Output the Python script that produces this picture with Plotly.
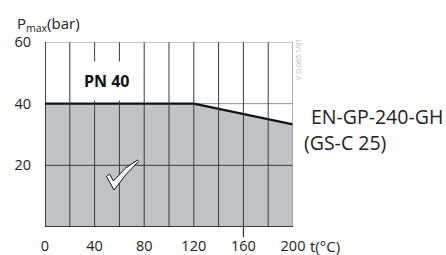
import plotly.graph_objects as go

# data
temps = [0, 120, 200]
pmax = [40, 40, 33.3]
x_ticks = [0, 40, 80, 120, 160, 200]
x_grid = [20, 40, 60, 80, 100, 120, 140, 160, 180]
y_ticks = [20, 40, 60]
y_grid = [20]
pn_label = "PN 40"
material = ["EN-GP-240-GH", "(GS-C 25)"]

W, H = 446, 255
L, R, T, B = 45, 153, 42, 28
FONT = "Open Sans"
TXT = "#222222"
GRID = "#3a3a3a"

fig = go.Figure()
fig.add_trace(go.Scatter(
    x=temps, y=pmax, mode="lines",
    line=dict(color="#111111", width=2.2),
    fill="tozeroy", fillcolor="#c1c2c6",
    hoverinfo="skip", showlegend=False,
))

shapes = []
shapes.append(dict(type="line", xref="x", yref="y", x0=0, x1=200, y0=40, y1=40,
                   line=dict(color="#8c8c8c", width=1), layer="below"))
for xv in x_grid:
    shapes.append(dict(type="line", xref="x", yref="y", x0=xv, x1=xv, y0=0, y1=60,
                       line=dict(color=GRID, width=1), layer="above"))
for yv in y_grid:
    shapes.append(dict(type="line", xref="x", yref="y", x0=0, x1=200, y0=yv, y1=yv,
                       line=dict(color=GRID, width=1), layer="above"))
shapes.append(dict(type="line", xref="x", yref="y", x0=0, x1=200, y0=60, y1=60,
                   line=dict(color="#8a8a8a", width=1), layer="above"))
shapes.append(dict(type="line", xref="x", yref="y", x0=200, x1=200, y0=0, y1=60,
                   line=dict(color="#8a8a8a", width=1.3), layer="above"))
shapes.append(dict(type="line", xref="x", yref="y", x0=0, x1=0, y0=0, y1=60,
                   line=dict(color="#111111", width=1.5), layer="above"))
shapes.append(dict(type="line", xref="x", yref="y", x0=0, x1=200, y0=0, y1=0,
                   line=dict(color="#111111", width=1.5), layer="above"))
shapes.append(dict(type="line", xref="x", yref="paper", x0=160, x1=160, y0=0, y1=-0.055,
                   line=dict(color="#111111", width=1), layer="above"))

def px2d(px, py):
    return (px - L) / (W - L - R) * 200, (H - B - py) / (H - T - B) * 60

pts = [(106.5, 176.5), (109.5, 174.0), (113.5, 181.0), (125, 168.5), (137.5, 160.0),
       (138.5, 161.5), (126.5, 174), (114.0, 190.0)]
d = []
for i, (px, py) in enumerate(pts):
    xd, yd = px2d(px, py)
    d.append(("M" if i == 0 else "L") + f"{xd:.3f},{yd:.3f}")
path = " ".join(d) + " Z"
shapes.append(dict(type="path", xref="x", yref="y", path=path,
                   fillcolor="white", line=dict(color="#111111", width=1), layer="above"))

annotations = [
    dict(text=f"<b>{pn_label}</b>", xref="x", yref="y", x=50, y=47.3,
         showarrow=False, font=dict(family=FONT, size=16, color="#111111"),
         bgcolor="white", borderpad=8),
    dict(text="P<sub>max</sub>(bar)", xref="paper", yref="paper",
         x=-30 / 248, y=(227 - 24) / 185, xanchor="left", yanchor="middle",
         showarrow=False, font=dict(family=FONT, size=15, color=TXT)),
    dict(text="t(°C)", xref="paper", yref="paper",
         x=(308 - 45) / 248, y=(227 - 246) / 185, xanchor="left", yanchor="middle",
         showarrow=False, font=dict(family=FONT, size=15, color=TXT)),
    dict(text=material[0], xref="paper", yref="paper",
         x=(309 - 45) / 248, y=(227 - 116) / 185, xanchor="left", yanchor="middle",
         showarrow=False, font=dict(family=FONT, size=19.5, color=TXT)),
    dict(text=material[1], xref="paper", yref="paper",
         x=(302 - 45) / 248, y=(227 - 142) / 185, xanchor="left", yanchor="middle",
         showarrow=False, font=dict(family=FONT, size=19.5, color=TXT)),
    dict(text="V.G.065.1/01", xref="paper", yref="paper",
         x=(298 - 45) / 248, y=(227 - 60) / 185, xanchor="center", yanchor="middle",
         textangle=-90, showarrow=False, font=dict(family=FONT, size=7, color="#b5b5b5")),
]

fig.update_layout(
    width=W, height=H,
    margin=dict(l=L, r=R, t=T, b=B, pad=0),
    plot_bgcolor="white", paper_bgcolor="white",
    shapes=shapes, annotations=annotations,
    showlegend=False,
    xaxis=dict(range=[0, 200], tickvals=x_ticks, ticktext=[str(v) for v in x_ticks],
               showgrid=False, zeroline=False, showline=False, ticks="",
               ticklabelstandoff=8, automargin=False,
               tickfont=dict(family=FONT, size=14.5, color=TXT), fixedrange=True),
    yaxis=dict(range=[0, 60], tickvals=y_ticks, ticktext=[str(v) for v in y_ticks],
               showgrid=False, zeroline=False, showline=False, ticks="",
               ticklabelstandoff=13, automargin=False,
               tickfont=dict(family=FONT, size=14.5, color=TXT), fixedrange=True),
)

fig.write_html("out.html", config={"displayModeBar": False},
               post_script="document.body.style.margin='0';")
